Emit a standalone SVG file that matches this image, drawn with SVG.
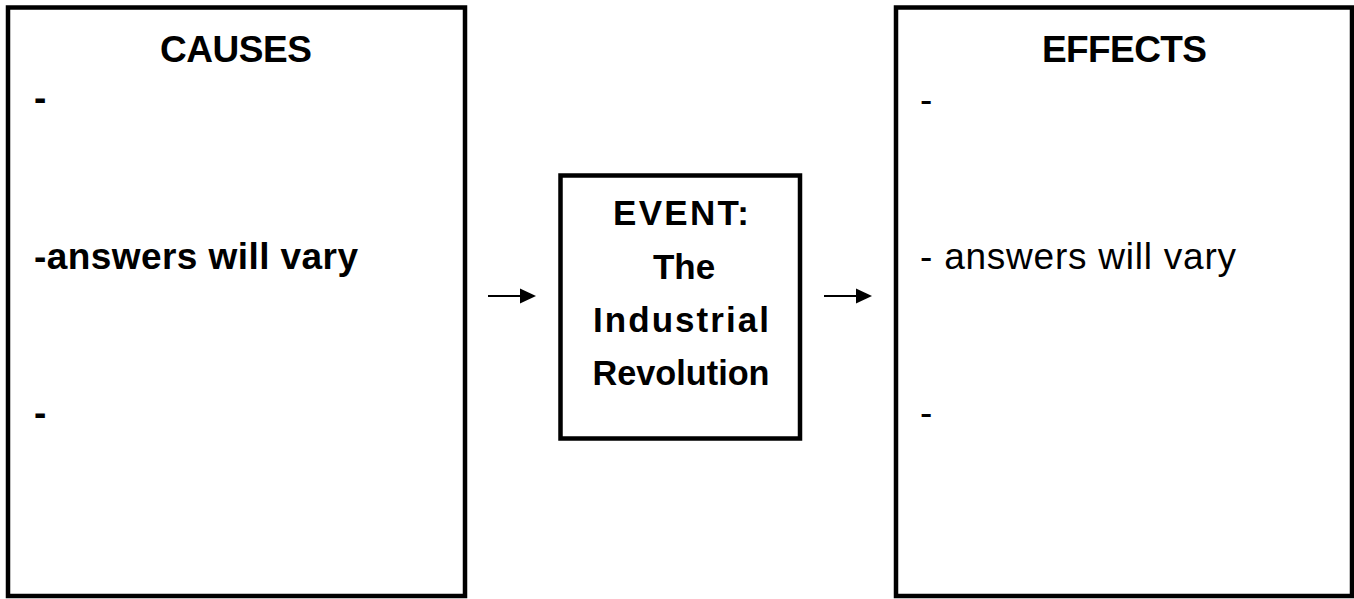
<svg xmlns="http://www.w3.org/2000/svg" width="1354" height="599" viewBox="0 0 1354 599">
<style>
.box{fill:#fff;stroke:#000;stroke-width:4.5}
.t{font-family:"Liberation Sans",Arial,sans-serif;fill:#000}
.b{font-weight:bold}
.big{font-size:37px}
.mid{font-size:35px;font-weight:bold}
.shaft{stroke:#000;stroke-width:2;fill:none}
.head{fill:#000}
</style>
<rect width="1354" height="599" fill="#fff"/>
<g id="causes">
<rect class="box" x="8" y="7.5" width="457" height="588.5"/>
<text class="t b big" x="236" y="62" text-anchor="middle" textLength="152">CAUSES</text>
<text class="t b big" x="34" y="110">-</text>
<text class="t b big" x="34" y="269" textLength="324">-answers will vary</text>
<text class="t b big" x="34" y="425">-</text>
</g>
<g id="event">
<rect class="box" x="560.5" y="175.5" width="239.5" height="263"/>
<text class="t mid" x="681" y="225" text-anchor="middle" textLength="136">EVENT:</text>
<text class="t mid" x="684" y="279" text-anchor="middle">The</text>
<text class="t mid" x="681" y="332" text-anchor="middle" textLength="176">Industrial</text>
<text class="t mid" x="681" y="385" text-anchor="middle" textLength="177" lengthAdjust="spacingAndGlyphs">Revolution</text>
</g>
<g id="connectors">
<line class="shaft" x1="488" y1="296" x2="522" y2="296"/>
<path class="head" d="M520,288.5 L536,296 L520,303.5 Z"/>
<line class="shaft" x1="824" y1="296" x2="858" y2="296"/>
<path class="head" d="M856,288.5 L872,296 L856,303.5 Z"/>
</g>
<g id="effects">
<rect class="box" x="896" y="7.5" width="456" height="588.5"/>
<text class="t b big" x="1124.5" y="62" text-anchor="middle" textLength="165">EFFECTS</text>
<text class="t big" x="920" y="112">-</text>
<text class="t big" x="920" y="269" textLength="316">- answers will vary</text>
<text class="t big" x="920" y="425">-</text>
</g>
</svg>
